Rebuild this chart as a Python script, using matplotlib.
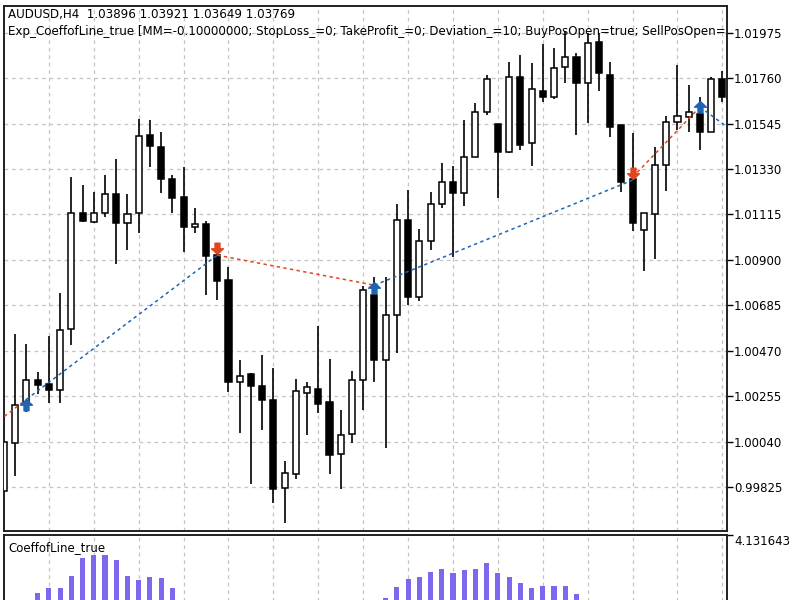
import matplotlib
matplotlib.use("Agg")
import matplotlib.pyplot as plt
from matplotlib.patches import Rectangle
from matplotlib.path import Path

# ---------------- data ----------------
opens = [0.99806, 1.00031, 1.00228, 1.00330, 1.00311, 1.00283, 1.00575, 1.01120, 1.01080, 1.01120,
         1.01210, 1.01075, 1.01120, 1.01491, 1.01435, 1.01282, 1.01195, 1.01053, 1.01069, 1.00922,
         1.00804, 1.00322, 1.00362, 1.00305, 1.00239, 0.99820, 0.99889, 1.00270, 1.00291, 1.00225,
         0.99983, 1.00078, 1.00330, 1.00733, 1.00428, 1.00638, 1.01088, 1.00722, 1.00990, 1.01162,
         1.01267, 1.01214, 1.01388, 1.01601, 1.01543, 1.01411, 1.01767, 1.01451, 1.01700, 1.01672,
         1.01814, 1.01861, 1.01738, 1.01932, 1.01775, 1.01538, 1.01281, 1.01041, 1.01116, 1.01348,
         1.01554, 1.01577, 1.01589, 1.01506, 1.01754]
highs = [1.00040, 1.00551, 1.00504, 1.00370, 1.00539, 1.00744, 1.01290, 1.01254, 1.01222, 1.01301,
         1.01375, 1.01210, 1.01566, 1.01562, 1.01506, 1.01301, 1.01340, 1.01143, 1.01085, 1.00981,
         1.00867, 1.00425, 1.00365, 1.00452, 1.00386, 0.99947, 1.00334, 1.00322, 1.00586, 1.00433,
         1.00188, 1.00374, 1.00776, 1.00820, 1.00820, 1.01164, 1.01230, 1.01044, 1.01222, 1.01359,
         1.01344, 1.01562, 1.01641, 1.01775, 1.01545, 1.01838, 1.01869, 1.01830, 1.01921, 1.01901,
         1.01983, 1.01880, 1.01974, 1.01974, 1.01835, 1.01538, 1.01501, 1.01123, 1.01435, 1.01581,
         1.01822, 1.01727, 1.01672, 1.01767, 1.01795]
lows = [0.99806, 0.99876, 1.00180, 1.00267, 1.00223, 1.00223, 1.00496, 1.01080, 1.01072, 1.01101,
        1.00880, 1.00946, 1.01025, 1.01340, 1.01214, 1.01120, 1.00935, 1.01028, 1.00733, 1.00712,
        1.00275, 1.00081, 0.99838, 1.00094, 0.99749, 0.99655, 0.99865, 1.00070, 1.00175, 0.99889,
        0.99817, 1.00033, 1.00188, 1.00322, 1.00010, 1.00457, 1.00686, 1.00706, 1.00946, 1.01146,
        1.00914, 1.01154, 1.01385, 1.01585, 1.01191, 1.01407, 1.01420, 1.01344, 1.01648, 1.01660,
        1.01738, 1.01491, 1.01549, 1.01699, 1.01480, 1.01219, 1.01037, 1.00848, 1.00902, 1.01225,
        1.01514, 1.01506, 1.01420, 1.01503, 1.01647]
closes = [1.00038, 1.00212, 1.00330, 1.00307, 1.00283, 1.00570, 1.01120, 1.01085, 1.01120, 1.01210,
          1.01072, 1.01115, 1.01487, 1.01438, 1.01281, 1.01194, 1.01053, 1.01069, 1.00919, 1.00801,
          1.00322, 1.00349, 1.00302, 1.00236, 0.99817, 0.99891, 1.00280, 1.00299, 1.00217, 0.99975,
          1.00073, 1.00330, 1.00757, 1.00428, 1.00638, 1.01088, 1.00722, 1.00990, 1.01164, 1.01267,
          1.01214, 1.01388, 1.01601, 1.01754, 1.01411, 1.01767, 1.01443, 1.01707, 1.01672, 1.01806,
          1.01859, 1.01738, 1.01928, 1.01786, 1.01530, 1.01269, 1.01072, 1.01120, 1.01348, 1.01554,
          1.01581, 1.01601, 1.01506, 1.01754, 1.01672]

price_ticks = [1.01975, 1.01760, 1.01545, 1.01330, 1.01115, 1.00900,
               1.00685, 1.00470, 1.00255, 1.00040, 0.99825]
price_tick_labels = ["1.01975", "1.01760", "1.01545", "1.01330", "1.01115", "1.00900",
                     "1.00685", "1.00470", "1.00255", "1.00040", "0.99825"]

# trades
buy_idx = [2, 33, 62]
buy_px = [1.00212, 1.00766, 1.01623]
sell_idx = [19, 56]
sell_px = [1.00955, 1.01311]
trade_x0 = [-1, 2, 19, 33, 56, 62]
trade_p0 = [1.00117, 1.00240, 1.00922, 1.00780, 1.01291, 1.01623]
trade_x1 = [2, 19, 33, 56, 62, 64.8]
trade_p1 = [1.00240, 1.00922, 1.00780, 1.01277, 1.01623, 1.01514]
trade_side = ["sell", "buy", "sell", "buy", "sell", "buy"]

# indicator histogram
osc_idx = [3, 4, 5, 6, 7, 8, 9, 10, 11, 12, 13, 14, 15,
           34, 35, 36, 37, 38, 39, 40, 41, 42, 43, 44, 45, 46, 47, 48, 49, 50, 51]
osc_vals = [2.687, 2.797, 2.797, 3.105, 3.548, 3.638, 3.638, 3.498, 3.105, 3.005, 3.072, 3.047, 2.797,
            2.547, 2.822, 3.030, 3.072, 3.213, 3.280, 3.188, 3.255, 3.280, 3.423, 3.173, 3.072,
            2.937, 2.797, 2.855, 2.855, 2.855, 2.654]
osc_max = 4.131643

title1 = "AUDUSD,H4  1.03896 1.03921 1.03649 1.03769"
title2 = ("Exp_CoeffofLine_true [MM=-0.10000000; StopLoss_=0; TakeProfit_=0; "
          "Deviation_=10; BuyPosOpen=true; SellPosOpen=")
sub_title = "CoeffofLine_true"

# ---------------- style ----------------
plt.rcParams['font.family'] = ['DejaVu Sans']
W, H = 800, 600
fig = plt.figure(figsize=(8, 6), dpi=100)
fig.patch.set_facecolor('white')

def fx(px):
    return px / W

def fy(py):
    return 1 - py / H

grid_color = '#c4c4c4'
red = '#e2461e'
blue = '#1f64b4'
bar_color = '#7b68ee'

# main axes: pixel box x 4..727, y 6..531
ax = fig.add_axes([fx(4), fy(531), fx(727) - fx(4), fy(6) - fy(531)])
ax.set_xlim(0, 64.41)
ax.set_ylim(0.99617, 1.02101)

for s in ax.spines.values():
    s.set_color('#202020')
    s.set_linewidth(1.4)

ax.yaxis.tick_right()
ax.set_yticks(price_ticks)
ax.set_yticklabels(price_tick_labels)
ax.tick_params(axis='y', direction='out', length=4, width=1, pad=1, labelsize=8.5, colors='#000000')
ax.set_xticks(range(4, 65, 4))
ax.tick_params(axis='x', length=0, labelbottom=False)
ax.grid(True, color=grid_color, linestyle=(0, (3, 3)), linewidth=0.9)
ax.set_axisbelow(True)

bw = 0.54
for i, (o, h, l, c) in enumerate(zip(opens, highs, lows, closes)):
    ax.plot([i, i], [l, h], color='black', lw=1.2, zorder=3, solid_capstyle='butt')
    bottom = min(o, c)
    height = max(abs(c - o), 0.00003)
    fc = 'white' if c >= o else 'black'
    ax.add_patch(Rectangle((i - bw / 2, bottom), bw, height, facecolor=fc,
                           edgecolor='black', lw=1.1, zorder=4))

for x0, p0, x1, p1, side in zip(trade_x0, trade_p0, trade_x1, trade_p1, trade_side):
    ax.plot([x0, x1], [p0, p1], color=red if side == 'sell' else blue,
            lw=1.1, linestyle=(0, (2.2, 2.2)), zorder=5)

up_arrow = Path([(0, 1), (1, 0.05), (0.42, 0.05), (0.42, -0.9), (-0.42, -0.9),
                 (-0.42, 0.05), (-1, 0.05), (0, 1)],
                [Path.MOVETO] + [Path.LINETO] * 6 + [Path.CLOSEPOLY])
down_arrow = Path([(x, -y) for x, y in up_arrow.vertices], up_arrow.codes)
ax.plot(buy_idx, buy_px, linestyle='none', marker=up_arrow, markersize=8.5,
        color=blue, zorder=6)
ax.plot(sell_idx, sell_px, linestyle='none', marker=down_arrow, markersize=8.5,
        color=red, zorder=6)

ax.text(0.0055, 0.983, title1, transform=ax.transAxes, fontsize=8.6, va='center',
        ha='left', clip_on=True, zorder=7)
ax.text(0.0055, 0.952, title2, transform=ax.transAxes, fontsize=8.6, va='center',
        ha='left', clip_on=True, zorder=7)

# indicator axes: pixel box x 4..727, y 535..700 (runs off the figure)
ax2 = fig.add_axes([fx(4), fy(700), fx(727) - fx(4), fy(535) - fy(700)])
ax2.set_xlim(0, 64.41)
ax2.set_ylim(0, osc_max)
for s in ax2.spines.values():
    s.set_color('#202020')
    s.set_linewidth(1.4)
ax2.yaxis.tick_right()
ax2.set_yticks([osc_max])
ax2.set_yticklabels(["4.131643"])
ax2.tick_params(axis='y', direction='out', length=4, width=1, pad=1, labelsize=8.5)
for lab in ax2.get_yticklabels():
    lab.set_va('top')
ax2.set_xticks(range(4, 65, 4))
ax2.tick_params(axis='x', length=0, labelbottom=False)
ax2.grid(True, axis='x', color=grid_color, linestyle=(0, (3, 3)), linewidth=0.9)
ax2.set_axisbelow(True)
ax2.bar(osc_idx, osc_vals, width=0.45, color=bar_color, zorder=3)
ax2.text(0.0055, 0.925, sub_title, transform=ax2.transAxes, fontsize=8.5, va='center',
         ha='left', zorder=7)

fig.savefig('out.png', dpi=100)
